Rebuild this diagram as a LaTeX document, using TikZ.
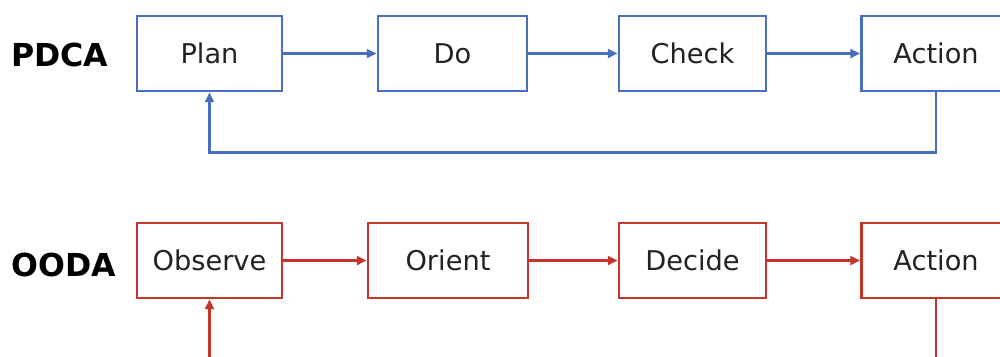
\documentclass[tikz,border=0pt]{standalone}
\usepackage{fontspec}
\setmainfont{DejaVu Sans}
\usetikzlibrary{arrows.meta}
\definecolor{pblue}{HTML}{4A6EBE}
\definecolor{ored}{HTML}{C4362C}
\definecolor{txt}{HTML}{222222}
\begin{document}
\begin{tikzpicture}[x=0.02cm,y=-0.02cm,
  box/.style={draw,line width=1.6pt,minimum height=1.5cm,inner sep=0pt,text=txt,font=\fontsize{15.5}{18}\selectfont},
  pbox/.style={box,draw=pblue},
  obox/.style={box,draw=ored},
  parr/.style={pblue,line width=1.6pt,-{Triangle[length=5.5pt,width=5pt]}},
  oarr/.style={ored,line width=1.6pt,-{Triangle[length=5.5pt,width=5pt]}},
  ttl/.style={font=\bfseries\fontsize{18}{21}\selectfont,text=black,anchor=west,inner sep=0pt}]
\useasboundingbox (0,0) rectangle (1000,356);
\clip (0,0) rectangle (1000,356);
% PDCA
\node[ttl] (pdca) at (11,55) {PDCA};
\node[pbox,minimum width=2.9cm] (plan) at (209.5,53.5) {Plan};
\node[pbox,minimum width=2.98cm] (do) at (452.5,53.5) {Do};
\node[pbox,minimum width=2.94cm] (check) at (692.5,53.5) {Check};
\node[pbox,minimum width=2.98cm] (pact) at (936,53.5) {Action};
\draw[parr] (plan) -- (do);
\draw[parr] (do) -- (check);
\draw[parr] (check) -- (pact);
\draw[parr] (pact.south) -- ++(0,60) -| (plan.south);
% OODA
\node[ttl] (ooda) at (11,265) {OODA};
\node[obox,minimum width=2.9cm] (obs) at (209.5,260.5) {Observe};
\node[obox,minimum width=3.2cm] (ori) at (448,260.5) {Orient};
\node[obox,minimum width=2.94cm] (dec) at (692.5,260.5) {Decide};
\node[obox,minimum width=2.98cm] (oact) at (936,260.5) {Action};
\draw[oarr] (obs) -- (ori);
\draw[oarr] (ori) -- (dec);
\draw[oarr] (dec) -- (oact);
\draw[oarr] (oact.south) -- ++(0,59) -| (obs.south);
\end{tikzpicture}
\end{document}
